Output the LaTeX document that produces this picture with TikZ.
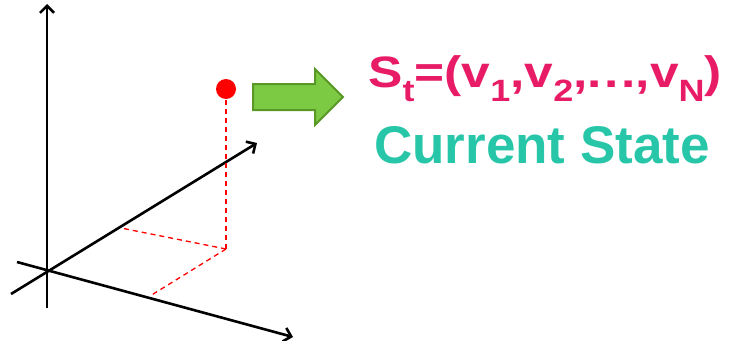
\documentclass[tikz,border=0pt]{standalone}
\usepackage{fontspec}
\setmainfont{Liberation Sans}
\usepackage{graphicx}
\usetikzlibrary{arrows.meta}
\definecolor{pink1}{RGB}{232, 28, 102}
\definecolor{teal1}{RGB}{40, 198, 168}
\definecolor{green1}{RGB}{124, 202, 68}
\definecolor{green2}{RGB}{88, 152, 38}
\newcommand{\lowidx}[1]{\raisebox{-0.32em}{\scalebox{0.7}{#1}}}
\tikzset{
  axis/.style={line width=2.6pt, -{Straight Barb[length=7pt, width=14pt]}},
  guide/.style={red, line width=1.3pt, dash pattern=on 5pt off 4pt},
}

\begin{document}
\begin{tikzpicture}[x=1pt, y=-1pt]
  \useasboundingbox (0,0) rectangle (735,340);
  % axes
  \coordinate (O) at (47,270);
  \coordinate (zlo) at (47,308);
  \coordinate (ztop) at (47,4);
  \coordinate (ylo) at (11,294);
  \coordinate (ytop) at (257,143);
  \coordinate (xlo) at (17,262);
  \coordinate (xtop) at (293,337);
  \draw[axis] (zlo) -- (ztop);
  \draw[axis] (ylo) -- (ytop);
  \draw[axis] (xlo) -- (xtop);
  % projections of the point
  \coordinate (foot) at (226,249);
  \coordinate (ymark) at (121,228);
  \coordinate (xmark) at (150,296);
  \node[circle, fill=red, inner sep=0pt, minimum size=20pt] (pt) at (226,89) {};
  \draw[guide] (foot) -- (pt);
  \draw[guide] (foot) -- (ymark);
  \draw[guide] (foot) -- (xmark);
  % green arrow
  \draw[draw=green2, fill=green1, line width=2pt, line join=miter]
    (253,84) -- (315,84) -- (315,69) -- (343,97) -- (315,125) -- (315,110) -- (253,110) -- cycle;
  % state vector
  \node[anchor=base west, inner sep=0pt, text=pink1, font=\fontsize{44}{48}\selectfont\bfseries] (state) at (368,87)
    {\scalebox{1.17}[1]{S\lowidx{t}=(v\lowidx{1},v\lowidx{2},.\kern.05em.\kern.05em.,v\lowidx{N})}};
  \node[anchor=base west, inner sep=0pt, text=teal1, font=\fontsize{53}{58}\selectfont\bfseries] (label) at (374,163)
    {Current State};
\end{tikzpicture}
\end{document}
